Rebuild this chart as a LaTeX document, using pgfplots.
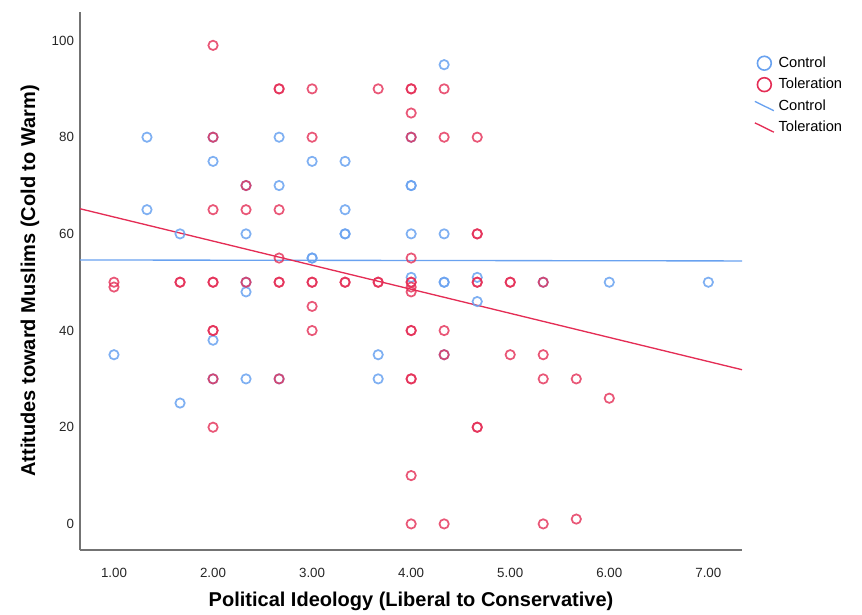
\documentclass[border=0pt]{standalone}
\usepackage{pgfplots}
\pgfplotsset{compat=1.18}
\usepackage{fontspec}
\setmainfont{Liberation Sans}
\definecolor{ctrl}{RGB}{105,162,240}
\definecolor{tol}{RGB}{228,45,85}
\begin{document}
\begin{tikzpicture}
\begin{axis}[
  at={(0,0)}, anchor=south west,
  scale only axis, width=496.5pt, height=403.5pt,
  xmin=0.657, xmax=7.34, ymin=-5.4, ymax=105.9,
  axis lines=left,
  axis line style={black!55, line width=0.8pt, -},
  major tick length=0pt,
  xtick={1,2,3,4,5,6,7},
  ytick={0,20,40,60,80,100},
  xticklabel style={/pgf/number format/.cd, fixed, fixed zerofill, precision=2, /tikz/.cd, yshift=-10pt},
  /pgf/number format/assume math mode=true,
  tick label style={font=\fontsize{10}{12}\selectfont, black!85},
  yticklabel style={xshift=-1pt},
  xlabel={\bfseries Political Ideology (Liberal to Conservative)},
  ylabel={\bfseries Attitudes toward Muslims (Cold to Warm)},
  label style={font=\fontsize{15}{17}\selectfont},
  xlabel style={at={(axis description cs:0.5,-0.0948)}, anchor=center},
  ylabel style={at={(axis description cs:-0.0755,0.5)}, anchor=center},
  legend style={at={(axis description cs:1.018,0.922)}, anchor=north west, draw=none, fill=none,
    font=\fontsize{11}{13}\selectfont, row sep=2.6pt, inner sep=0pt,
    nodes={inner xsep=3pt}},
  legend cell align=left,
  clip=false,
]
\addplot[only marks, mark=o, mark size=3.5pt, mark options={line width=1.3pt, draw=ctrl, draw opacity=0.85},
  legend image code/.code={\draw[ctrl, line width=1.2pt] (0.2cm,0) circle (5.2pt);}]
  coordinates {
  (1.000,35)
  (1.333,80) (1.333,65)
  (1.667,60) (1.667,25)
  (2.000,80) (2.000,75) (2.000,38) (2.000,30)
  (2.333,70) (2.333,60) (2.333,50) (2.333,48) (2.333,30)
  (2.667,80) (2.667,70) (2.667,30)
  (3.000,75) (3.000,55) (3.000,55)
  (3.333,75) (3.333,65) (3.333,60) (3.333,60)
  (3.667,35) (3.667,30)
  (4.000,80) (4.000,70) (4.000,70) (4.000,60) (4.000,51)
  (4.333,95) (4.333,60) (4.333,50) (4.333,50) (4.333,35)
  (4.667,51) (4.667,46)
  (5.333,50)
  (6.000,50)
  (7.000,50)
  };
\addlegendentry{Control}
\addplot[only marks, mark=o, mark size=3.5pt, mark options={line width=1.3pt, draw=tol, draw opacity=0.8},
  legend image code/.code={\draw[tol, line width=1.2pt] (0.2cm,0) circle (5.2pt);}]
  coordinates {
  (1.000,50) (1.000,49)
  (1.667,50) (1.667,50)
  (2.000,99) (2.000,80) (2.000,65) (2.000,50) (2.000,50) (2.000,40) (2.000,40) (2.000,30) (2.000,20)
  (2.333,70) (2.333,65) (2.333,50)
  (2.667,90) (2.667,90) (2.667,65) (2.667,55) (2.667,50) (2.667,50) (2.667,30)
  (3.000,90) (3.000,80) (3.000,50) (3.000,50) (3.000,45) (3.000,40)
  (3.333,50) (3.333,50)
  (3.667,90) (3.667,50) (3.667,50)
  (4.000,90) (4.000,90) (4.000,85) (4.000,80) (4.000,55) (4.000,50) (4.000,50) (4.000,49) (4.000,48)
  (4.000,40) (4.000,40) (4.000,30) (4.000,30) (4.000,10) (4.000,0)
  (4.333,90) (4.333,80) (4.333,40) (4.333,35) (4.333,0)
  (4.667,80) (4.667,60) (4.667,60) (4.667,50) (4.667,50) (4.667,20) (4.667,20)
  (5.000,50) (5.000,50) (5.000,35)
  (5.333,50) (5.333,35) (5.333,30) (5.333,0)
  (5.667,30) (5.667,1)
  (6.000,26)
  };
\addlegendentry{Toleration}
\addplot[ctrl, line width=1pt, legend image code/.code={\draw[ctrl, line width=1pt] (-0.05cm,3.5pt) -- (0.45cm,-3.5pt);}]
  coordinates {(0.657,54.6) (7.34,54.4)};
\addlegendentry{Control}
\addplot[tol, line width=1pt, legend image code/.code={\draw[tol, line width=1pt] (-0.05cm,3.5pt) -- (0.45cm,-3.5pt);}]
  coordinates {(0.657,65.2) (7.34,31.9)};
\addlegendentry{Toleration}
\end{axis}
\path[use as bounding box] (-60pt,-46.5pt) rectangle (586.5pt,412.5pt);
\end{tikzpicture}
\end{document}
